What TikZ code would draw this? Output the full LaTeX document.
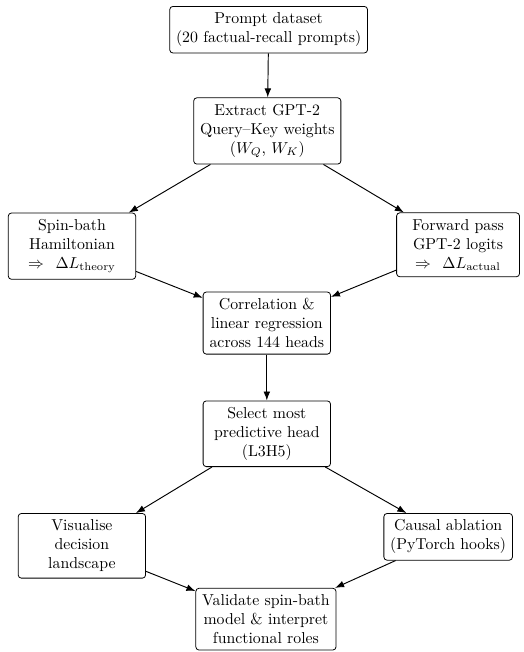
\documentclass[tikz,border=0pt]{standalone}
\usetikzlibrary{arrows.meta}

\begin{document}
\begin{tikzpicture}[
proc/.style = {
	draw,
	line width=0.5pt,
	rounded corners=2pt,
	inner sep=4pt,
	align=center
	},
procW/.style = {
	proc,
	text width=2.55cm
	},
flowArr/.style = {
	-Latex,
	line width=0.6pt
	}
]

\useasboundingbox (0,0) rectangle (11.64,-14.49);

% MAIN COLUMN
\node [proc] (prompt) at (5.97,-0.66) {Prompt dataset\\(20 factual-recall prompts)};
\node [proc] (extract) at (5.94,-2.91) {Extract GPT-2\\Query--Key weights\\($W_Q$, $W_K$)};
\node [procW] (corr) at (5.93,-7.18) {Correlation \&\\linear regression\\across 144 heads};
\node [procW] (select) at (5.93,-9.64) {Select most\\predictive head\\(L3H5)};
\node [proc] (valid) at (5.91,-13.76) {Validate spin-bath\\model \& interpret\\functional roles};

% SIDE NODES
\node [procW] (spin) at (1.60,-5.47) {Spin-bath\\Hamiltonian\\$\Rightarrow\ \Delta L_{\mathrm{theory}}$};
\node [proc, text width=2.45cm] (fwd) at (10.18,-5.44) {Forward pass\\GPT-2 logits\\$\Rightarrow\ \Delta L_{\mathrm{actual}}$};
\node [procW] (vis) at (1.82,-12.13) {Visualise\\decision\\landscape};
\node [proc] (causal) at (9.96,-11.93) {Causal ablation\\(PyTorch hooks)};

% PATHS
\path [flowArr] (prompt) edge (extract) (extract) edge (spin) (extract) edge (fwd);
\path [flowArr] (spin) edge (corr) (fwd) edge (corr) (corr) edge (select);
\path [flowArr] (select) edge (vis) (select) edge (causal);
\path [flowArr] (vis) edge (valid) (causal) edge (valid);
\end{tikzpicture}
\end{document}
